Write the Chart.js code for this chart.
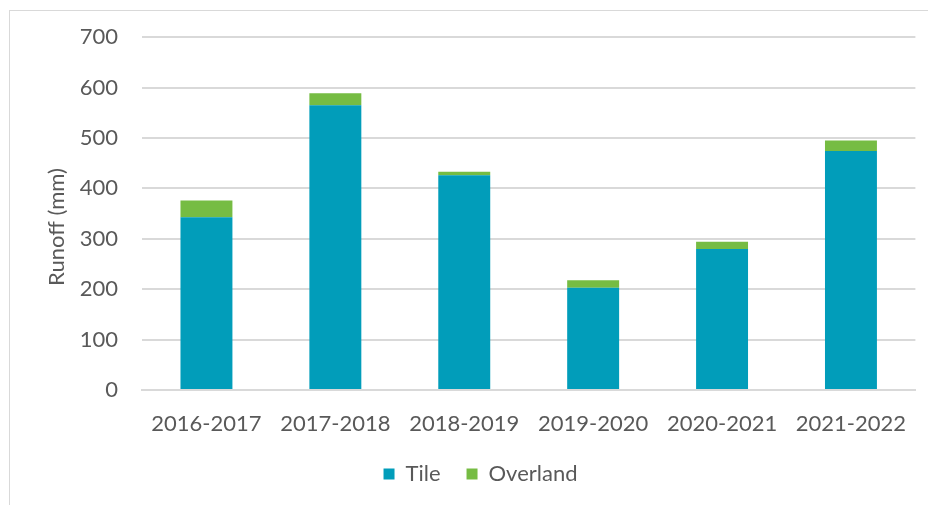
<!DOCTYPE html>
<html>
<head>
<meta charset="utf-8">
<script src="https://cdn.jsdelivr.net/npm/chart.js@4"></script>
<style>
  html, body { margin: 0; padding: 0; background: #fff; }
  #wrap { position: relative; width: 928px; height: 505px; overflow: hidden; }
  #frame { position: absolute; left: 9px; top: 10px; width: 930px; height: 510px; border: 1px solid #d9d9d9; box-sizing: border-box; }
  #chart { position: absolute; left: 0; top: 0; }
</style>
</head>
<body>
<div id="wrap">
  <div id="frame"></div>
  <canvas id="chart" width="928" height="505"></canvas>
</div>
<script>
const ctx = document.querySelector("#chart");

const seasons = ["2016-2017", "2017-2018", "2018-2019", "2019-2020", "2020-2021", "2021-2022"];
const tile = [343, 565, 426, 203, 280, 474];
const overland = [33, 24, 7, 15, 14, 21];

const TEAL = "#019dba";
const GREEN = "#76bc43";
const TEXT = "#595959";
const FONT = "Lato, 'Open Sans', sans-serif";

// y axis title, drawn a little below the plot's middle like the Excel original
const axisTitle = {
    id: "axisTitle",
    afterDraw(chart) {
        const c = chart.ctx;
        c.save();
        c.translate(57, 227);
        c.rotate(-Math.PI / 2);
        c.font = "22px " + FONT;
        c.fillStyle = TEXT;
        c.textAlign = "center";
        c.textBaseline = "middle";
        c.fillText("Runoff (mm)", 0, 0);
        c.restore();
    },
};

// nudge the legend right so it sits under the middle of the bars
const legendShift = {
    id: "legendShift",
    afterLayout(chart) {
        chart.legend.left += 22;
        chart.legend.right += 22;
    },
};

const data = {
    labels: seasons,
    datasets: [
        { label: "Tile", data: tile, backgroundColor: TEAL },
        { label: "Overland", data: overland, backgroundColor: GREEN },
    ],
};

const config = {
    type: "bar",
    data: data,
    plugins: [axisTitle, legendShift],
    options: {
        responsive: false,
        animation: false,
        categoryPercentage: 1,
        barPercentage: 0.403,
        layout: {
            padding: { top: 37, right: 11, bottom: 10, left: 0 }
        },
        plugins: {
            tooltip: { enabled: false },
            legend: {
                display: true,
                position: "bottom",
                labels: {
                    color: TEXT,
                    font: { family: FONT, size: 22 },
                    boxWidth: 11,
                    boxHeight: 11,
                    padding: 26,
                },
            },
        },
        scales: {
            x: {
                stacked: true,
                grid: { display: false, drawTicks: false },
                border: { display: true, color: "#d9d9d9", width: 2 },
                ticks: {
                    color: TEXT,
                    font: { family: FONT, size: 22 },
                    padding: 21,
                    maxRotation: 0,
                },
                afterFit: (scale) => { scale.height = 47; },
            },
            y: {
                stacked: true,
                min: 0,
                max: 700,
                grid: { color: "#d9d9d9", lineWidth: 2, drawTicks: false },
                border: { display: false },
                ticks: {
                    stepSize: 100,
                    color: TEXT,
                    font: { family: FONT, size: 22 },
                    padding: 24,
                },
                afterFit: (scale) => { scale.width = 142; },
            },
        },
    },
};

new Chart(ctx, config);
</script>
</body>
</html>
